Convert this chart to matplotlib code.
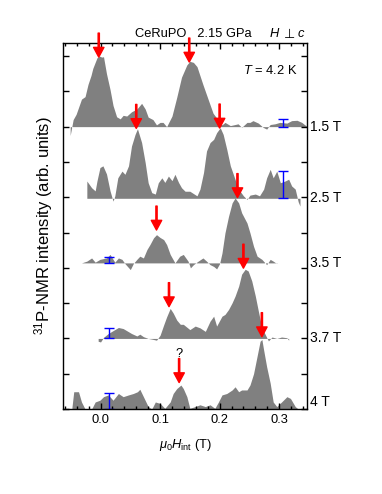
import numpy as np
import matplotlib.pyplot as plt
from matplotlib.ticker import MultipleLocator

plt.rcParams['font.family'] = ['Liberation Sans', 'DejaVu Sans']
plt.rcParams['font.size'] = 9.3
plt.rcParams['mathtext.fontset'] = 'custom'
plt.rcParams['mathtext.rm'] = 'Liberation Sans'
plt.rcParams['mathtext.it'] = 'Liberation Sans:italic'

# --- spectra (x in T, intensity in arb. units) ---
x_15 = [-0.051, -0.046, -0.041, -0.032, -0.026, -0.021, -0.016, -0.013, -0.006, -0.002,
        0.002, 0.005, 0.010, 0.016, 0.021, 0.027, 0.033, 0.038, 0.044, 0.052,
        0.061, 0.069, 0.075, 0.080, 0.088, 0.094, 0.100, 0.105, 0.111, 0.120,
        0.128, 0.136, 0.145, 0.150, 0.156, 0.162, 0.172, 0.181, 0.189, 0.197,
        0.204, 0.209, 0.218, 0.226, 0.231, 0.237, 0.246, 0.251, 0.256, 0.265,
        0.273, 0.279, 0.285, 0.293, 0.301, 0.313, 0.321, 0.330, 0.338, 0.347]
y_15 = [-0.25, 0.20, 0.35, 0.78, 0.85, 1.20, 1.45, 1.65, 1.95, 2.00,
        1.97, 1.98, 1.50, 1.05, 0.60, 0.28, 0.22, 0.32, 0.30, 0.42,
        0.50, 0.66, 0.50, 0.27, 0.20, 0.05, 0.12, 0.12, 0.00, 0.30,
        0.83, 1.40, 1.75, 1.85, 1.82, 1.70, 1.19, 0.76, 0.38, 0.20,
        0.05, 0.12, 0.03, 0.06, 0.08, -0.02, 0.12, 0.12, 0.17, 0.10,
        -0.02, -0.07, 0.06, 0.08, 0.12, 0.10, 0.17, 0.18, 0.12, 0.00]

x_25 = [-0.023, -0.015, -0.009, -0.006, -0.001, 0.004, 0.010, 0.016, 0.021, 0.024,
        0.029, 0.036, 0.041, 0.047, 0.052, 0.058, 0.062, 0.069, 0.075, 0.080,
        0.086, 0.092, 0.097, 0.103, 0.108, 0.114, 0.120, 0.125, 0.131, 0.136,
        0.142, 0.150, 0.162, 0.167, 0.173, 0.178, 0.184, 0.190, 0.195, 0.201,
        0.206, 0.212, 0.218, 0.223, 0.229, 0.234, 0.240, 0.246, 0.251, 0.260,
        0.267, 0.274, 0.279, 0.285, 0.290, 0.296, 0.302, 0.310, 0.316, 0.321,
        0.327, 0.332, 0.335]
y_25 = [0.49, 0.30, 0.21, 0.49, 0.87, 0.92, 0.69, 0.21, -0.08, 0.07,
        0.58, 0.77, 0.68, 0.92, 1.48, 1.81, 1.97, 1.58, 1.01, 0.44,
        0.16, 0.12, 0.44, 0.58, 0.45, 0.63, 0.50, 0.68, 0.45, 0.30,
        0.20, 0.20, 0.07, 0.26, 0.73, 1.34, 1.58, 1.67, 1.86, 2.00,
        1.81, 1.39, 0.92, 0.68, 0.39, 0.21, 0.07, -0.03, 0.09, 0.12,
        0.07, 0.26, 0.58, 0.82, 0.58, 0.77, 0.44, 0.49, 0.54, 0.35,
        0.26, -0.10, -0.22]

x_35 = [-0.032, -0.023, -0.015, -0.009, -0.001, 0.010, 0.016, 0.024, 0.030, 0.036,
        0.041, 0.050, 0.055, 0.061, 0.066, 0.072, 0.078, 0.083, 0.089, 0.094,
        0.100, 0.106, 0.111, 0.117, 0.125, 0.133, 0.139, 0.147, 0.151, 0.156,
        0.164, 0.172, 0.178, 0.184, 0.190, 0.195, 0.200, 0.204, 0.209, 0.215,
        0.221, 0.226, 0.232, 0.237, 0.246, 0.251, 0.257, 0.263, 0.271, 0.279,
        0.285, 0.290, 0.296]
y_35 = [0.00, 0.05, 0.14, 0.02, 0.10, 0.14, 0.24, 0.02, 0.14, 0.10,
        -0.02, -0.19, -0.02, 0.10, 0.19, 0.14, 0.38, 0.52, 0.71, 0.80,
        0.72, 0.66, 0.52, 0.24, 0.00, 0.19, 0.24, 0.05, -0.14, -0.05,
        0.05, 0.14, 0.05, -0.05, -0.10, -0.17, -0.02, 0.28, 0.85, 1.32,
        1.70, 1.84, 1.70, 1.42, 1.13, 0.85, 0.47, 0.19, 0.10, -0.05,
        0.10, 0.05, -0.02]

x_37 = [-0.004, 0.000, 0.005, 0.013, 0.021, 0.030, 0.038, 0.044, 0.052, 0.061,
        0.066, 0.072, 0.080, 0.089, 0.094, 0.100, 0.106, 0.111, 0.117, 0.122,
        0.128, 0.134, 0.139, 0.150, 0.159, 0.167, 0.176, 0.184, 0.190, 0.195,
        0.204, 0.209, 0.215, 0.221, 0.226, 0.232, 0.237, 0.243, 0.248, 0.254,
        0.260, 0.265, 0.271, 0.277, 0.282, 0.288, 0.296, 0.304, 0.313, 0.316]
y_37 = [-0.08, -0.10, 0.03, 0.14, 0.22, 0.31, 0.28, 0.22, 0.14, 0.07,
        0.12, 0.05, 0.00, -0.03, -0.05, 0.09, 0.38, 0.61, 0.85, 0.72,
        0.52, 0.40, 0.40, 0.25, 0.35, 0.30, 0.20, 0.49, 0.63, 0.35,
        0.63, 0.68, 0.82, 1.01, 1.20, 1.48, 1.82, 1.96, 1.91, 1.63,
        1.20, 0.78, 0.30, 0.10, -0.07, 0.04, 0.00, 0.04, 0.02, -0.05]

x_40 = [-0.048, -0.045, -0.037, -0.032, -0.026, -0.015, -0.009, -0.001, 0.005, 0.013,
        0.021, 0.030, 0.038, 0.047, 0.055, 0.062, 0.066, 0.072, 0.080, 0.086,
        0.092, 0.100, 0.108, 0.117, 0.122, 0.128, 0.135, 0.139, 0.145, 0.150,
        0.159, 0.167, 0.176, 0.184, 0.192, 0.198, 0.204, 0.212, 0.221, 0.226,
        0.232, 0.237, 0.246, 0.251, 0.257, 0.263, 0.268, 0.271, 0.274, 0.279,
        0.285, 0.290, 0.296, 0.304, 0.313, 0.319, 0.327, 0.332]
y_40 = [0.05, 0.49, 0.49, 0.20, 0.00, 0.00, 0.20, 0.25, 0.35, 0.40,
        0.25, 0.44, 0.35, 0.40, 0.44, 0.49, 0.56, 0.35, 0.07, 0.00,
        0.20, 0.16, 0.02, 0.20, 0.44, 0.58, 0.68, 0.58, 0.35, 0.02,
        0.07, 0.12, 0.07, 0.12, 0.02, 0.20, 0.40, 0.44, 0.54, 0.63,
        0.49, 0.54, 0.54, 0.68, 1.00, 1.50, 1.92, 1.97, 1.67, 1.20,
        0.73, 0.20, 0.07, 0.20, 0.35, 0.30, 0.07, 0.00]

fields = ['1.5 T', '2.5 T', '3.5 T', '3.7 T', '4 T']
offsets = [8.0, 5.97, 4.14, 2.0, 0.0]
spectra = [(x_15, y_15), (x_25, y_25), (x_35, y_35), (x_37, y_37), (x_40, y_40)]

# error bars: x position, height
err_x = [0.307, 0.307, 0.015, 0.015, 0.015]
err_h = [0.23, 0.77, 0.17, 0.30, 0.46]

# red arrows: x position and tip height (same vertical units)
arrow_x = [-0.003, 0.149, 0.060, 0.200, 0.230, 0.094, 0.115, 0.240, 0.271, 0.132]
arrow_tip = [9.97, 9.83, 7.95, 7.96, 5.99, 5.07, 2.90, 3.99, 2.05, 0.75]

fig = plt.figure(figsize=(3.82, 4.94), dpi=100)
ax = fig.add_axes([0.165, 0.172, 0.639, 0.741])

for (xs, ys), off in zip(spectra, offsets):
    xs = np.array(xs)
    ys = np.array(ys)
    ax.fill_between(xs, off, off + ys, color='#808080', lw=0)

for xe, he, off in zip(err_x, err_h, offsets):
    ax.errorbar(xe, off + he / 2, yerr=he / 2, color='blue', lw=1,
                capsize=3.5, capthick=1)

for xa, ya in zip(arrow_x, arrow_tip):
    ax.annotate('', xy=(xa, ya), xytext=(xa, ya + 0.68),
                arrowprops=dict(facecolor='red', edgecolor='red', width=0.9,
                                headwidth=7.5, headlength=7, shrink=0),
                annotation_clip=False)

ax.text(0.132, 1.55, '?', ha='center', va='center')

# field labels on the right
for lab, off in zip(fields, offsets):
    yy = off + 0.2 if off == 0 else off
    ax.text(1.012, yy, lab, transform=ax.get_yaxis_transform(),
            ha='left', va='center', fontsize=10)

ax.text(0.96, 0.925, '$T$ = 4.2 K', transform=ax.transAxes, ha='right', va='center')
fig.text(0.505, 1 - 34 / 494, 'CeRuPO   2.15 GPa', ha='center', va='center')
fig.text(270 / 382, 1 - 34 / 494, 'H', style='italic', ha='left', va='center')
fig.text(290 / 382, 1 - 34 / 494, '⊥', family='DejaVu Sans', ha='center', va='center')
fig.text(298 / 382, 1 - 34 / 494, 'c', style='italic', ha='left', va='center')

ax.set_xlim(-0.063, 0.347)
ax.set_ylim(0, 10.37)
ax.xaxis.set_major_locator(MultipleLocator(0.1))
ax.xaxis.set_minor_locator(MultipleLocator(0.02))
ax.yaxis.set_major_locator(MultipleLocator(1))
ax.set_xticks([0.0, 0.1, 0.2, 0.3])
ax.set_xticklabels(['0.0', '0.1', '0.2', '0.3'])
ax.tick_params(which='both', direction='in', top=True, right=True, width=1)
ax.tick_params(which='major', length=4, labelsize=9.3)
ax.tick_params(which='minor', length=2.5)
ax.tick_params(axis='y', labelleft=False)
for s in ax.spines.values():
    s.set_linewidth(1)

ax.set_xlabel(r'$\mu_0H_{\rm int}$ (T)', labelpad=8)
ax.set_ylabel(r'$^{31}$P-NMR intensity (arb. units)', labelpad=6, fontsize=12)

fig.savefig('out.png', dpi=100)
